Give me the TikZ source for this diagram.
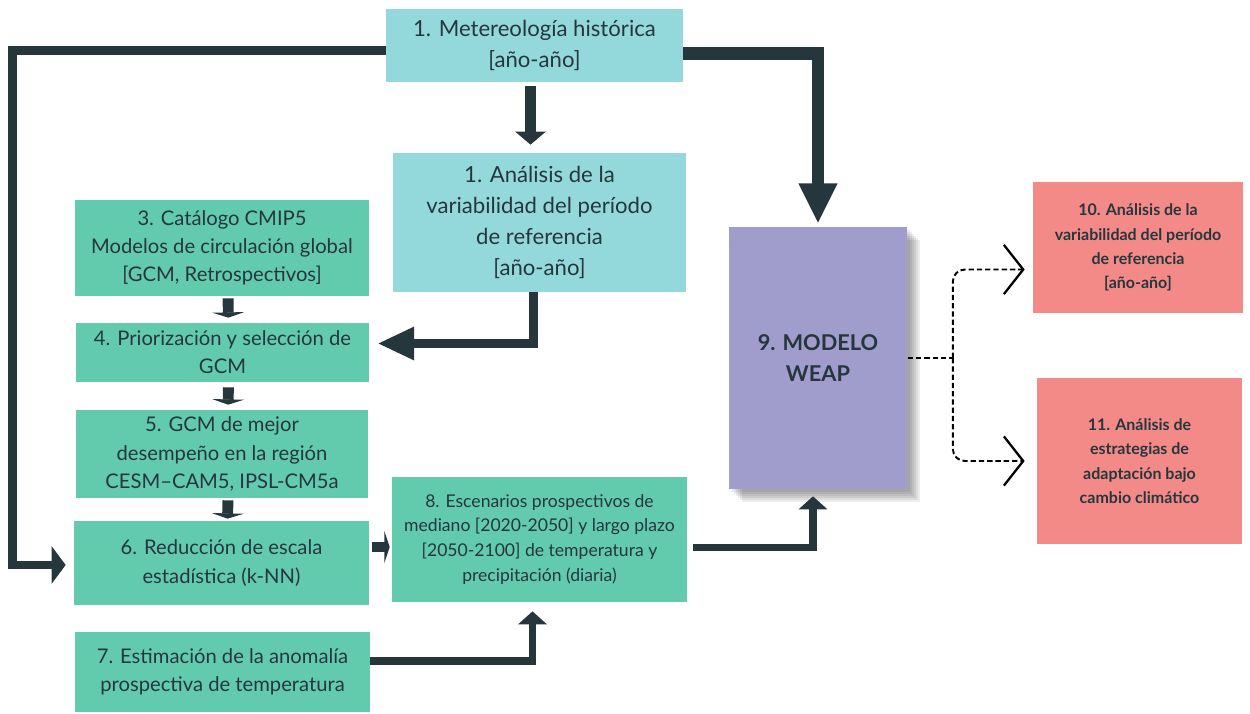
\documentclass[tikz,border=0pt]{standalone}
\usepackage{fontspec}
\setmainfont{Lato}
\usepackage{tikz}
\usetikzlibrary{positioning,calc,arrows.meta,shadows}
\definecolor{inkdark}{RGB}{38,54,61}
\definecolor{boxcyan}{RGB}{147,217,220}
\definecolor{boxgreen}{RGB}{98,203,173}
\definecolor{boxlilac}{RGB}{160,157,205}
\definecolor{boxsalmon}{RGB}{243,138,136}
\tikzset{pbox/.style={inner sep=0pt, align=center, text=inkdark}}
\tikzset{cbox/.style={pbox, fill=boxcyan, font=\fontsize{12.6}{17.8}\selectfont}}
\tikzset{gbox/.style={pbox, fill=boxgreen, font=\fontsize{11.5}{16}\selectfont}}
\tikzset{gboxs/.style={pbox, fill=boxgreen, font=\fontsize{10}{14.2}\selectfont}}
\tikzset{rbox/.style={pbox, fill=boxsalmon, font=\bfseries\fontsize{9.1}{13.8}\selectfont}}
\tikzset{softshadow/.style={general shadow={fill=black, opacity=0.07, shadow xshift=#1, shadow yshift=-#1}}}
\tikzset{wbox/.style={pbox, fill=boxlilac, font=\bfseries\fontsize{12.4}{18}\selectfont,
    softshadow=0.26cm, softshadow=0.22cm, softshadow=0.18cm, softshadow=0.14cm,
    softshadow=0.10cm, softshadow=0.06cm}}
\tikzset{arrbig/.style={draw=inkdark, line width=7pt, -{Triangle[length=23pt, width=20.5pt]}}}
\tikzset{arrmid/.style={draw=inkdark, line width=6.2pt, -{Triangle[length=7.4pt, width=17pt]}}}
\tikzset{arrloop/.style={draw=inkdark, line width=5pt, -{Triangle[length=8pt, width=21pt]}}}
\tikzset{arrwide/.style={draw=inkdark, line width=5.4pt, -{Triangle[length=21pt, width=17.6pt]}}}
\tikzset{arrflat/.style={draw=inkdark, line width=6.2pt, -{Triangle[length=3pt, width=18pt]}}}
\tikzset{arrthin/.style={draw=inkdark, line width=4.5pt, -{Triangle[length=7.4pt, width=16pt]}}}
\tikzset{dashlink/.style={draw=black, line width=1.1pt, dash pattern=on 3pt off 1.7pt, rounded corners=0.24cm}}
\begin{document}
\begin{tikzpicture}[x=0.02cm, y=-0.02cm]
\useasboundingbox (0,0) rectangle (1250,713);
% boxes
\node[cbox, minimum width=5.94cm, minimum height=1.46cm] (met) at (534.5,45.5) {1. Metereología histórica\\{}[año-año]};
\node[cbox, minimum width=5.86cm, minimum height=2.78cm] (ana) at (539.5,222.5) {1. Análisis de la\\variabilidad del período\\de referencia\\{}[año-año]};
\node[gbox, minimum width=5.88cm, minimum height=1.92cm] (cat) at (222,248) {3. Catálogo CMIP5\\Modelos de circulación global\\{}[GCM, Retrospectivos]};
\node[gbox, minimum width=5.86cm, minimum height=1.18cm] (pri) at (222.5,352.5) {4. Priorización y selección de\\GCM};
\node[gbox, minimum width=5.84cm, minimum height=1.76cm] (gcm) at (222,454) {5. GCM de mejor\\desempeño en la región\\CESM–CAM5, IPSL-CM5a};
\node[gbox, minimum width=5.9cm, minimum height=1.68cm] (red) at (221.5,563) {6. Reducción de escala\\estadística (k-NN)};
\node[gbox, minimum width=5.9cm, minimum height=1.6cm] (est) at (222.5,672) {7. Estimación de la anomalía\\prospectiva de temperatura};
\node[gboxs, minimum width=5.9cm, minimum height=2.5cm] (esc) at (539.5,539.5) {8. Escenarios prospectivos de\\mediano [2020-2050] y largo plazo\\{}[2050-2100] de temperatura y\\precipitación (diaria)};
\node[wbox, minimum width=3.58cm, minimum height=5.24cm] (wea) at (818,358) {9. MODELO\\WEAP};
\node[rbox, minimum width=4.2cm, minimum height=2.62cm] (res) at (1138,247.5) {10. Análisis de la\\variabilidad del período\\de referencia\\{}[año-año]};
\node[rbox, minimum width=4.1cm, minimum height=3.32cm] (ada) at (1139.5,461) {11. Análisis de\\estrategias de\\adaptación bajo\\cambio climático};
% thick connectors
\draw[arrloop, shorten >=0.16cm] ($(met.west)+(0,5)$) -| ($(red.west)+(-61,2)$) -- ($(red.west)+(0,2)$);
\draw[arrmid, shorten <=0.08cm, shorten >=0.16cm] ($(met.south)+(-4,0)$) -- ($(met.south |- ana.north)+(-4,0)$);
\draw[arrbig, shorten >=0.06cm] ($(met.east)+(0,8)$) -| (wea.north);
\draw[arrwide, shorten >=0.16cm] ($(ana.south)+(-6,0)$) |- ($(pri.east)+(0,-9)$);
\draw[arrflat, shorten <=0.04cm, shorten >=0.1cm] ($(cat.south)+(6,0)$) -- ($(pri.north)+(6,0)$);
\draw[arrflat, shorten <=0.1cm, shorten >=0.1cm] ($(pri.south)+(6,0)$) -- ($(gcm.north)+(6,0)$);
\draw[arrflat, shorten <=0.04cm, shorten >=0.04cm] ($(gcm.south)+(6,0)$) -- ($(red.north)+(6,0)$);
\draw[arrflat, shorten <=0.06cm, shorten >=0.04cm] ($(red.east)+(0,-16)$) -- ($(red.east -| esc.west)+(0,-16)$);
\draw[arrthin, shorten >=0.18cm] ($(est.east)+(0,-11)$) -| ($(esc.south)+(-7,0)$);
\draw[arrthin, shorten <=0.12cm, shorten >=0.14cm] ($(esc.east)+(0,8)$) -| ($(wea.south)+(-5,0)$);
% dashed outputs
\coordinate[right=0.9cm of wea] (split);
\draw[dashlink] (wea.east) -- (split);
\draw[dashlink, -{Straight Barb[length=11pt, width=28pt, line width=1.3pt]}, shorten >=0.16cm] (split) |- ($(res.west)+(0,22)$);
\draw[dashlink, -{Straight Barb[length=11pt, width=28pt, line width=1.3pt]}, shorten >=0.24cm] (split) |- (ada.west);
\end{tikzpicture}
\end{document}
